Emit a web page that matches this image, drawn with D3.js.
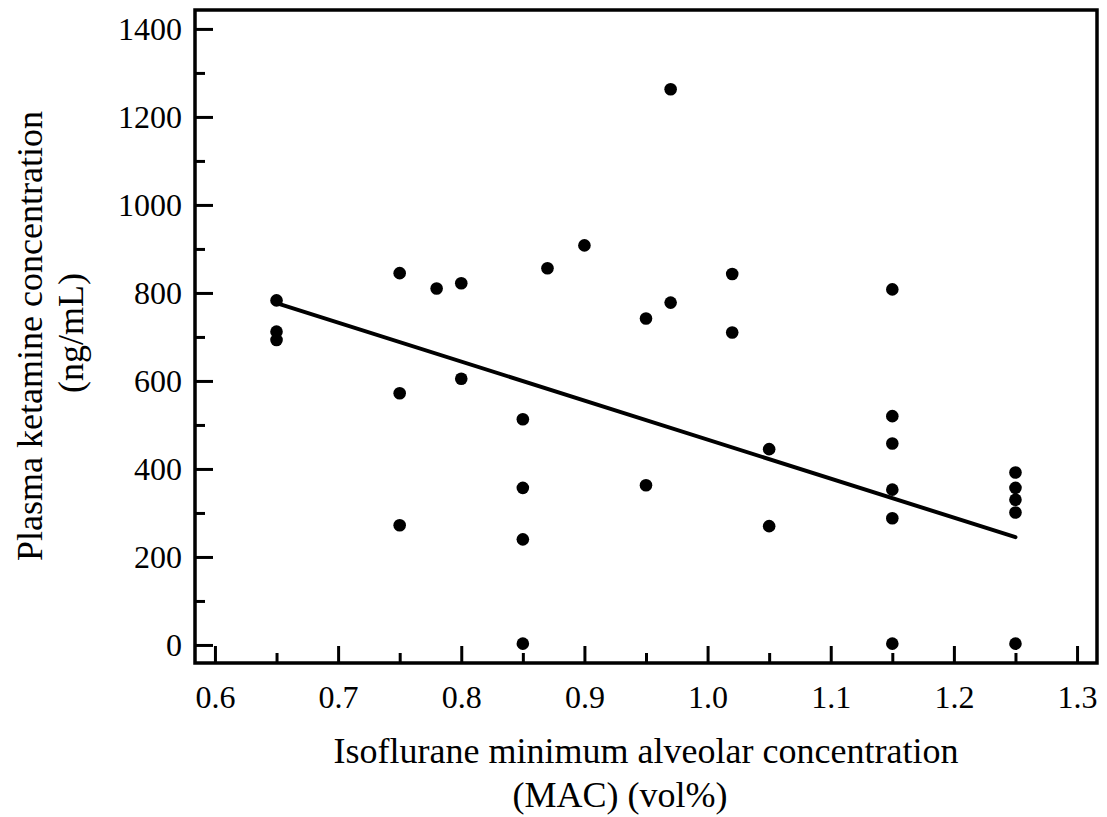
<!DOCTYPE html>
<html>
<head>
<meta charset="utf-8">
<script src="https://cdn.jsdelivr.net/npm/d3@7"></script>
<style>
  body { margin: 0; background: #fff; }
  svg text { font-family: "Liberation Serif", "DejaVu Serif", serif; fill: #000; }
</style>
</head>
<body>
<div id="chart"></div>
<script>
// data
var macX = [0.65, 0.65, 0.65,
            0.75, 0.75, 0.75,
            0.78,
            0.80, 0.80,
            0.85, 0.85, 0.85, 0.85,
            0.87, 0.90,
            0.95, 0.95,
            0.97, 0.97,
            1.02, 1.02,
            1.05, 1.05,
            1.15, 1.15, 1.15, 1.15, 1.15, 1.15,
            1.25, 1.25, 1.25, 1.25, 1.25];
var ketamineY = [783, 712, 693,
                 845, 572, 272,
                 810,
                 822, 605,
                 513, 357, 240, 3,
                 856, 908,
                 742, 363,
                 1263, 778,
                 843, 710,
                 445, 270,
                 808, 520, 458, 353, 288, 3,
                 392, 357, 330, 301, 3];
// regression line end points
var fitX = [0.65, 1.25];
var fitY = [777, 245];

var xTicks = [0.6, 0.7, 0.8, 0.9, 1.0, 1.1, 1.2, 1.3];
var xMinor = [0.65, 0.75, 0.85, 0.95, 1.05, 1.15, 1.25];
var yTicks = [0, 200, 400, 600, 800, 1000, 1200, 1400];
var yMinor = [100, 300, 500, 700, 900, 1100, 1300];

function drawChart() {
  var W = 1107, H = 817;
  var pLeft = 195, pRight = 1097, pTop = 10, pBottom = 663;

  var svg = d3.select('#chart').append('svg')
    .attr('width', W).attr('height', H);

  var x = d3.scaleLinear().domain([0.5838, 1.3162]).range([pLeft, pRight]);
  var y = d3.scaleLinear().domain([-41, 1443]).range([pBottom, pTop]);

  // frame
  svg.append('rect')
    .attr('x', pLeft).attr('y', pTop)
    .attr('width', pRight - pLeft).attr('height', pBottom - pTop)
    .attr('fill', 'none').attr('stroke', '#000').attr('stroke-width', 3.5);

  // x axis ticks (inside)
  var xAxis = d3.axisBottom(x).tickValues(xTicks).tickSizeInner(-17).tickSizeOuter(0)
    .tickPadding(22).tickFormat(d3.format('.1f'));
  var gx = svg.append('g').attr('transform', 'translate(0,' + pBottom + ')').call(xAxis);
  gx.select('.domain').remove();
  gx.selectAll('.tick line').attr('stroke-width', 3);
  gx.selectAll('.tick text').attr('font-size', 32).attr('dy', '0.71em');

  var xAxisMinor = d3.axisBottom(x).tickValues(xMinor).tickSize(-10).tickFormat('');
  var gxm = svg.append('g').attr('transform', 'translate(0,' + pBottom + ')').call(xAxisMinor);
  gxm.select('.domain').remove();
  gxm.selectAll('.tick line').attr('stroke-width', 3);

  // y axis ticks (inside)
  var yAxis = d3.axisLeft(y).tickValues(yTicks).tickSizeInner(-18).tickSizeOuter(0)
    .tickPadding(13).tickFormat(d3.format('d'));
  var gy = svg.append('g').attr('transform', 'translate(' + pLeft + ',0)').call(yAxis);
  gy.select('.domain').remove();
  gy.selectAll('.tick line').attr('stroke-width', 3);
  gy.selectAll('.tick text').attr('font-size', 32);

  var yAxisMinor = d3.axisLeft(y).tickValues(yMinor).tickSize(-10).tickFormat('');
  var gym = svg.append('g').attr('transform', 'translate(' + pLeft + ',0)').call(yAxisMinor);
  gym.select('.domain').remove();
  gym.selectAll('.tick line').attr('stroke-width', 3);

  // regression line
  svg.append('line')
    .attr('x1', x(fitX[0])).attr('y1', y(fitY[0]))
    .attr('x2', x(fitX[1])).attr('y2', y(fitY[1]))
    .attr('stroke', '#000').attr('stroke-width', 4).attr('stroke-linecap', 'round');

  // points
  svg.selectAll('circle.pt')
    .data(macX.map(function(d, i) { return [d, ketamineY[i]]; }))
    .enter().append('circle')
    .attr('class', 'pt')
    .attr('cx', function(d) { return x(d[0]); })
    .attr('cy', function(d) { return y(d[1]); })
    .attr('r', 6.3)
    .attr('fill', '#000');

  // axis titles
  svg.append('text')
    .attr('x', (pLeft + pRight) / 2).attr('y', 763)
    .attr('text-anchor', 'middle').attr('font-size', 36)
    .text('Isoflurane minimum alveolar concentration');
  svg.append('text')
    .attr('x', 620).attr('y', 807)
    .attr('text-anchor', 'middle').attr('font-size', 36)
    .text('(MAC) (vol%)');

  svg.append('text')
    .attr('transform', 'translate(42,336) rotate(-90)')
    .attr('text-anchor', 'middle').attr('font-size', 36)
    .text('Plasma ketamine concentration');
  svg.append('text')
    .attr('transform', 'translate(83,333) rotate(-90)')
    .attr('text-anchor', 'middle').attr('font-size', 36)
    .text('(ng/mL)');
}

drawChart();
</script>
</body>
</html>
